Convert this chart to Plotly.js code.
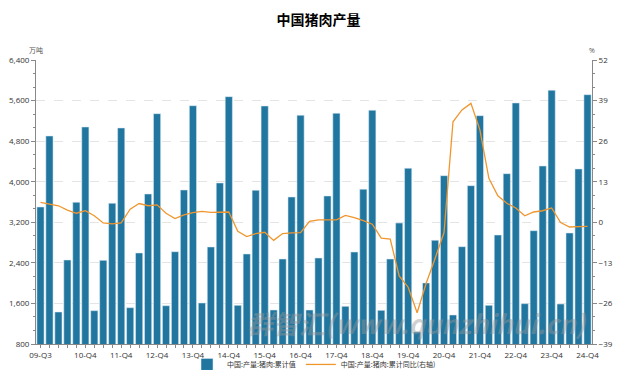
<!DOCTYPE html>
<html>
<head>
<meta charset="utf-8">
<script src="https://cdn.plot.ly/plotly-3.0.1.min.js"></script>
<style>html,body{margin:0;padding:0;background:#fff;}#chart{width:637px;height:370px;}</style>
</head>
<body>
<div id="chart"></div>
<script>
const quarters = ['09-Q3','09-Q4',
 '10-Q1','10-Q2','10-Q3','10-Q4','11-Q1','11-Q2','11-Q3','11-Q4',
 '12-Q1','12-Q2','12-Q3','12-Q4','13-Q1','13-Q2','13-Q3','13-Q4',
 '14-Q1','14-Q2','14-Q3','14-Q4','15-Q1','15-Q2','15-Q3','15-Q4',
 '16-Q1','16-Q2','16-Q3','16-Q4','17-Q1','17-Q2','17-Q3','17-Q4',
 '18-Q1','18-Q2','18-Q3','18-Q4','19-Q1','19-Q2','19-Q3','19-Q4',
 '20-Q1','20-Q2','20-Q3','20-Q4','21-Q1','21-Q2','21-Q3','21-Q4',
 '22-Q1','22-Q2','22-Q3','22-Q4','23-Q1','23-Q2','23-Q3','23-Q4',
 '24-Q1','24-Q2','24-Q3','24-Q4'];

const shownLabels = ['09-Q3','10-Q4','11-Q4','12-Q4','13-Q4','14-Q4','15-Q4','16-Q4',
 '17-Q4','18-Q4','19-Q4','20-Q4','21-Q4','22-Q4','23-Q4','24-Q4'];

// 中国:产量:猪肉:累计值 (万吨)
const porkCum = [3502,4902,1431,2456,3594,5079,1457,2450,3575,5060,
 1516,2595,3758,5342,1555,2620,3837,5499,1609,2713,
 3975,5677,1563,2575,3831,5493,1470,2476,3699,5310,
 1470,2496,3719,5350,1543,2614,3851,5409,1464,2476,
 3186,4265,1037,2003,2845,4119,1372,2719,3922,5302,
 1563,2949,4159,5553,1595,3034,4310,5803,1589,2989,
 4251,5716];

// 中国:产量:猪肉:累计同比 (%)
const porkYoY = [6.4,5.8,5.3,3.9,2.9,3.7,2.1,-0.2,-0.5,-0.2,
 4.2,6.0,5.3,5.6,2.9,1.2,2.4,3.1,3.5,3.2,
 3.3,3.3,-2.9,-4.6,-3.6,-3.2,-5.8,-3.6,-3.4,-3.3,
 0.3,0.8,0.8,0.8,2.2,1.5,0.5,-0.6,-5.1,-5.4,
 -17.2,-20.8,-29.0,-19.6,-11.6,-3.3,32.2,36.0,38.1,29.6,
 14.1,8.5,6.1,4.6,2.1,3.3,3.7,4.6,-0.1,-1.5,
 -1.4,-1.3];

const seriesNames = ['中国:产量:猪肉:累计值','中国:产量:猪肉:累计同比(右轴)'];

const fontFam = '"Open Sans", "Noto Sans CJK SC", sans-serif';
const cjkFam = '"Noto Sans CJK SC", "Open Sans", sans-serif';

const traces = [
 {type:'bar', x:quarters, y:porkCum, name:seriesNames[0],
  marker:{color:'#21769f', line:{color:'rgba(220,235,245,0.9)', width:0.6}},
  hoverinfo:'x+y'},
 {type:'scatter', mode:'lines', x:quarters, y:porkYoY, name:seriesNames[1], yaxis:'y2',
  line:{color:'#f0962e', width:1.3}}
];

const tickText = quarters.map(q => shownLabels.includes(q) ? q : '');

const layout = {
 width:637, height:370,
 margin:{l:36, r:45, t:60, b:26, pad:0, autoexpand:false},
 paper_bgcolor:'#fff', plot_bgcolor:'#fff',
 font:{family:fontFam, size:8, color:'#333'},
 title:{text:'中国猪肉产量', x:0.5, xanchor:'center', y:0.946, yanchor:'middle',
  font:{family:cjkFam, size:14, color:'#000', weight:'bold'}},
 bargap:0.2,
 showlegend:true,
 legend:{orientation:'h', x:0.5, xanchor:'center', y:-0.072, yanchor:'middle',
  font:{family:cjkFam, size:7, color:'#333'}, itemwidth:30, tracegroupgap:0,
  bgcolor:'rgba(0,0,0,0)'},
 xaxis:{type:'category', tickmode:'array', tickvals:quarters, ticktext:tickText,
  tickangle:0, ticks:'outside', ticklen:3, tickcolor:'#888', showline:true, linecolor:'#888',
  linewidth:1, showgrid:false, zeroline:false, tickfont:{size:8, color:'#333'}, automargin:false},
 yaxis:{range:[800,6400], tickmode:'linear', tick0:800, dtick:800, tickformat:',d',
  ticks:'outside', ticklen:4, tickcolor:'#888', showline:true, linecolor:'#888', linewidth:1,
  showgrid:true, gridcolor:'#e4e4e4', griddash:'dash', gridwidth:1, zeroline:false,
  minor:{dtick:800/3, ticks:'outside', ticklen:2, tickcolor:'#888', showgrid:false},
  tickfont:{size:8, color:'#333'}, automargin:false},
 yaxis2:{overlaying:'y', side:'right', range:[-39,52], tickmode:'linear', tick0:0, dtick:13,
  ticks:'outside', ticklen:4, tickcolor:'#888', showline:true, linecolor:'#888', linewidth:1,
  showgrid:false, zeroline:false,
  minor:{dtick:13/3, ticks:'outside', ticklen:2, tickcolor:'#888', showgrid:false},
  tickfont:{size:8, color:'#333'}, automargin:false},
 annotations:[
  {text:'万吨', xref:'paper', yref:'paper', x:0, y:1.0, xanchor:'center', yanchor:'bottom',
   yshift:3, showarrow:false, font:{family:cjkFam, size:7, color:'#555'}},
  {text:'%', xref:'paper', yref:'paper', x:1, y:1.0, xanchor:'center', yanchor:'bottom',
   yshift:3, showarrow:false, font:{family:fontFam, size:7, color:'#555'}},
  {text:'<i>群智汇(www.qunzhihui.cn)</i>', xref:'paper', yref:'paper', x:0.995, y:0.075,
   xanchor:'right', yanchor:'middle', showarrow:false,
   font:{family:cjkFam, size:26, color:'rgba(150,150,150,0.45)', weight:'bold'}}
 ]
};

Plotly.newPlot('chart', traces, layout, {displayModeBar:false, staticPlot:true});
</script>
</body>
</html>
